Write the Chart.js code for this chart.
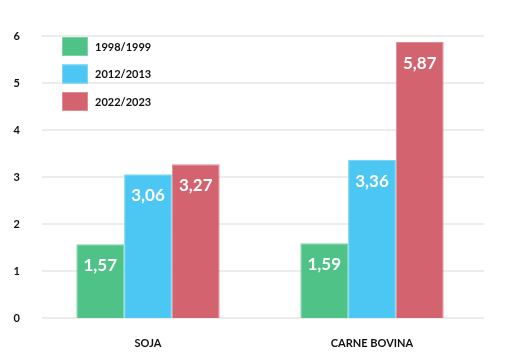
<!DOCTYPE html>
<html><head><meta charset="utf-8">
<script src="https://cdn.jsdelivr.net/npm/chart.js@4"></script>
<style>html,body{margin:0;padding:0;background:#fff}#wrap{width:512px;height:363px}</style>
</head><body><div id="wrap"><canvas id="c" width="512" height="363"></canvas></div>
<script>
const categories = ["SOJA", "CARNE BOVINA"];
const seriesNames = ["1998/1999", "2012/2013", "2022/2023"];
const s1998 = [1.57, 1.59];
const s2012 = [3.06, 3.36];
const s2022 = [3.27, 5.87];
const yTicks = [0, 1, 2, 3, 4, 5, 6];
const colors = ["#4fc387", "#4cc6f2", "#d3636e"];
const borders = ["#7fd4a7", "#7fd6f5", "#e08e96"];

const FONT = "Lato, 'Open Sans', sans-serif";

const gridLines = {
  id: 'gridLines',
  beforeDatasetsDraw(chart) {
    const ctx = chart.ctx, y = chart.scales.y;
    ctx.save();
    ctx.strokeStyle = '#ececec';
    ctx.lineWidth = 2;
    yTicks.forEach(v => {
      const py = Math.round(y.getPixelForValue(v));
      ctx.beginPath();
      ctx.moveTo(42, py);
      ctx.lineTo(chart.chartArea.right, py);
      ctx.stroke();
    });
    ctx.restore();
  }
};

const valueLabels = {
  id: 'valueLabels',
  afterDatasetsDraw(chart) {
    const ctx = chart.ctx;
    ctx.save();
    ctx.fillStyle = '#fff';
    ctx.font = `bold 17px ${FONT}`;
    ctx.textAlign = 'center';
    ctx.textBaseline = 'middle';
    chart.data.datasets.forEach((ds, i) => {
      chart.getDatasetMeta(i).data.forEach((bar, j) => {
        ctx.fillText(ds.data[j].toFixed(2).replace('.', ','), bar.x, bar.y + 21);
      });
    });
    ctx.restore();
  }
};

const boxLegend = {
  id: 'boxLegend',
  afterDraw(chart) {
    const ctx = chart.ctx;
    ctx.save();
    ctx.font = `bold 11px ${FONT}`;
    ctx.textBaseline = 'middle';
    ctx.textAlign = 'left';
    chart.data.datasets.forEach((ds, i) => {
      const y = 37 + i * 27.5;
      ctx.fillStyle = ds.backgroundColor;
      ctx.fillRect(62, y, 26, 19);
      ctx.strokeStyle = ds.borderColor;
      ctx.lineWidth = 1;
      ctx.strokeRect(62.5, y + 0.5, 25, 18);
      ctx.fillStyle = '#111';
      ctx.fillText(ds.label, 95, y + 10);
    });
    ctx.restore();
  }
};

new Chart(document.getElementById('c'), {
  type: 'bar',
  data: {
    labels: categories,
    datasets: [
      { label: seriesNames[0], data: s1998, backgroundColor: colors[0], borderColor: borders[0], borderWidth: 1 },
      { label: seriesNames[1], data: s2012, backgroundColor: colors[1], borderColor: borders[1], borderWidth: 1 },
      { label: seriesNames[2], data: s2022, backgroundColor: colors[2], borderColor: borders[2], borderWidth: 1 }
    ]
  },
  options: {
    responsive: false,
    animation: false,
    categoryPercentage: 0.64,
    barPercentage: 1,
    layout: { padding: { top: 36, right: 28, bottom: 0, left: 0 } },
    plugins: { legend: { display: false }, tooltip: { enabled: false } },
    scales: {
      x: {
        grid: { display: false },
        border: { display: false },
        ticks: { color: '#111', font: { family: FONT, weight: 'bold', size: 11 }, padding: 11 },
        afterFit(s) { s.height = 45; }
      },
      y: {
        min: 0, max: 6,
        afterBuildTicks(s) { s.ticks = yTicks.map(v => ({ value: v })); },
        grid: { display: false },
        border: { display: false },
        ticks: { color: '#111', font: { family: FONT, weight: 'bold', size: 11 }, padding: 8 },
        afterFit(s) { s.width = 36; }
      }
    }
  },
  plugins: [gridLines, valueLabels, boxLegend]
});
</script></body></html>
